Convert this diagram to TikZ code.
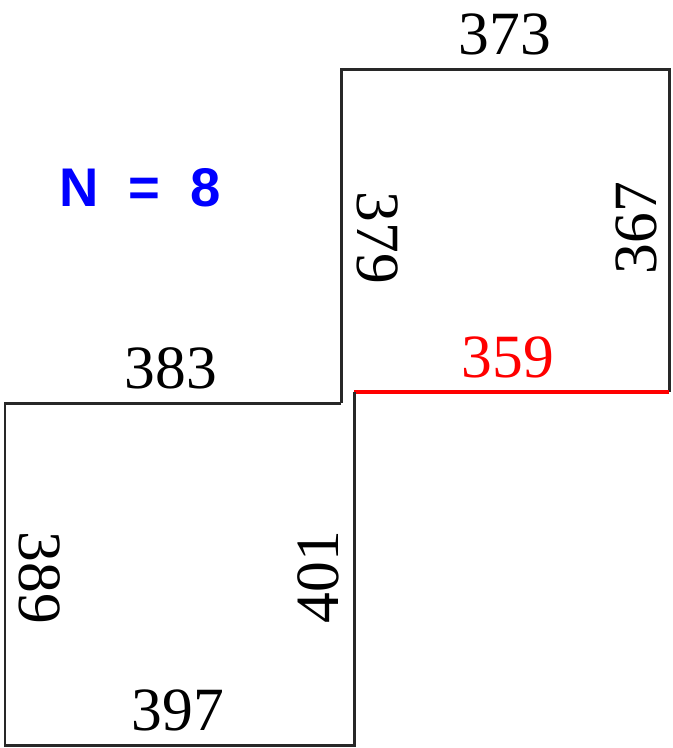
\documentclass[tikz,border=0pt]{standalone}
\usepackage{fontspec}
\setmainfont{Liberation Serif}
\setsansfont{Liberation Sans}
\usetikzlibrary{positioning}
\definecolor{edgegray}{RGB}{40,40,40}
\definecolor{cutred}{RGB}{255,0,0}
\definecolor{countblue}{RGB}{0,0,255}

\begin{document}
\begin{tikzpicture}[
    x=0.02cm, y=-0.02cm,
    side/.style={draw=edgegray, line width=0.06cm},
    cut/.style={draw=cutred, line width=0.07cm},
    num/.style={font=\fontsize{35}{35}\selectfont, inner sep=0pt},
]
    \useasboundingbox (0,0) rectangle (673,748);
    % corners of the two squares
    \coordinate (uA) at (341,69);
    \coordinate (uB) at (669,69);
    \coordinate (uC) at (669,392);
    \coordinate (uD) at (354,392);
    \coordinate (uE) at (341,403);
    \coordinate (lA) at (5,403);
    \coordinate (lB) at (5,745);
    \coordinate (lC) at (354,745);
    \draw[side] (uE) -- (uA) -- (uB) -- (uC);
    \draw[cut] (uC) -- (uD);
    \draw[side] (uE) -- (lA) -- (lB) -- (lC) -- (uD);
    % edge values
    \node[num] (t373) at (505,34) {373};
    \node[num, rotate=-90] (t379) at (378,238) {379};
    \node[num, rotate=90] (t367) at (636,228) {367};
    \node[num, text=cutred] (t359) at (508,357) {359};
    \node[num] (t383) at (171,368) {383};
    \node[num, rotate=-90] (t389) at (40,578) {389};
    \node[num, rotate=90] (t401) at (318,577) {401};
    \node[num] (t397) at (178,710) {397};
    \node[font=\sffamily\bfseries\fontsize{31}{31}\selectfont, text=countblue, inner sep=0pt] (count) at (140,188) {N\ \ =\ \ 8};
\end{tikzpicture}
\end{document}
